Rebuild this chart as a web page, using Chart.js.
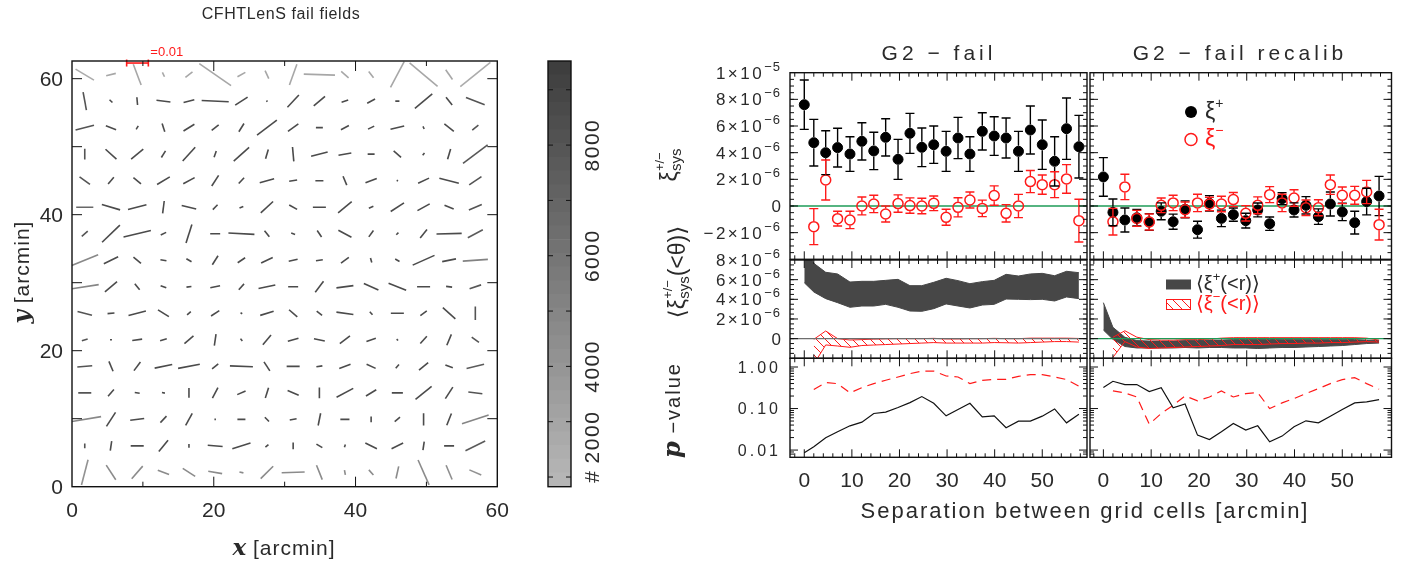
<!DOCTYPE html>
<html>
<head>
<meta charset="utf-8">
<script src="https://cdn.jsdelivr.net/npm/chart.js@4/dist/chart.umd.min.js"></script>
<style>
  html, body { margin: 0; padding: 0; background: #fff; }
  #wrap { position: relative; width: 1413px; height: 567px; overflow: hidden; }
  #wrap canvas { position: absolute; left: 0; top: 0; }
</style>
</head>
<body>
<div id="wrap"></div>
<script>
// ---- whisker map (16 x 16 cells, rows listed top to bottom) ----
const cellX = [1.8, 5.5, 9.2, 12.9, 16.5, 20.2, 23.9, 27.5, 31.2, 34.9, 38.5, 42.2, 45.9, 49.6, 53.2, 56.9];
const cellY = [60.6, 56.7, 52.8, 48.9, 45.0, 41.1, 37.2, 33.3, 29.4, 25.5, 21.6, 17.7, 13.8, 9.9, 6.0, 2.1];
// |e| x 1000
const ellip = [
  [10.0, 4.6, 10.6, 2.3, 4.2, 18.1, 4.2, 4.2, 10.6, 14.4, 4.6, 3.7, 13.9, 17.1, 5.6, 18.1],
  [8.8, 1.9, 3.7, 6.5, 5.1, 12.5, 6.9, 0.7, 7.9, 6.9, 3.2, 4.2, 1.9, 10.6, 4.6, 9.3],
  [8.8, 5.1, 1.9, 4.2, 6.0, 4.2, 4.6, 11.6, 6.0, 3.2, 4.2, 3.2, 6.5, 1.4, 5.6, 3.7],
  [5.1, 6.9, 7.4, 3.7, 8.8, 3.2, 9.7, 4.6, 6.9, 7.9, 6.0, 3.2, 4.6, 1.4, 5.1, 14.4],
  [6.0, 4.2, 4.6, 6.9, 6.0, 6.0, 3.7, 6.9, 3.7, 3.7, 4.6, 5.6, 0.7, 5.6, 9.3, 6.9],
  [7.9, 8.8, 8.8, 6.0, 6.9, 3.2, 1.9, 7.9, 4.2, 6.0, 8.3, 2.3, 7.4, 6.5, 4.6, 6.5],
  [3.7, 11.6, 13.0, 2.8, 9.3, 4.6, 12.0, 3.7, 1.9, 3.7, 6.9, 3.7, 1.4, 5.1, 11.6, 7.9],
  [13.4, 7.4, 4.6, 2.8, 2.8, 5.1, 4.2, 6.0, 4.2, 3.2, 4.6, 2.3, 2.3, 11.1, 6.5, 11.6],
  [13.0, 7.4, 3.7, 2.8, 2.3, 4.6, 3.7, 7.9, 4.6, 6.5, 7.9, 7.4, 8.8, 6.0, 2.8, 5.6],
  [6.9, 3.2, 8.3, 6.0, 2.3, 4.6, 0.9, 6.5, 5.1, 3.2, 7.9, 1.9, 6.0, 3.7, 7.9, 6.5],
  [2.8, 0.9, 4.6, 3.2, 5.6, 5.6, 1.4, 6.0, 5.1, 5.1, 6.0, 4.6, 0.9, 4.6, 5.6, 4.2],
  [6.9, 5.1, 5.1, 8.3, 10.2, 3.7, 10.6, 5.1, 6.0, 2.8, 5.6, 4.6, 2.3, 5.6, 3.7, 8.3],
  [6.0, 4.2, 2.3, 1.4, 4.6, 5.6, 4.2, 5.1, 5.6, 5.1, 8.8, 5.6, 5.1, 9.7, 6.5, 6.5],
  [15.3, 7.9, 6.5, 4.2, 6.5, 0.7, 3.7, 2.8, 3.2, 6.0, 4.2, 2.8, 3.2, 6.0, 6.0, 13.0],
  [2.3, 4.6, 6.0, 6.9, 1.9, 6.9, 8.8, 1.9, 3.2, 3.2, 1.4, 6.0, 6.0, 4.2, 4.6, 10.2],
  [12.5, 8.3, 7.9, 5.6, 6.9, 6.5, 1.9, 8.3, 10.6, 7.4, 2.3, 3.2, 6.0, 13.0, 7.4, 6.0]
];
// position angle, degrees
const angle = [
  [-32, 15, -70, -65, 39, -36, 30, -66, 71, -2, -42, -53, 63, -41, -56, 40],
  [-80, -45, -85, -7, 14, -3, 34, -60, 48, 41, 18, 30, 0, 41, -52, -22],
  [15, -22, 59, -73, 33, 40, 59, 38, 37, 0, 29, 27, 14, -67, -39, 40],
  [90, -43, 41, 59, 49, 72, 43, 74, -85, 15, 10, 0, -42, 53, 74, 38],
  [-37, 51, -41, 32, 29, 58, 48, 16, 9, 0, -68, 22, -30, 26, -15, 35],
  [0, -17, 15, 83, -14, 47, 23, 44, -30, 0, 41, 25, 34, 30, -23, 24],
  [42, 45, 14, 27, 73, 0, -3, -53, -20, -57, -29, 55, 45, 52, 1.5, 29],
  [23, 27, -41, -9, -32, 59, 35, 27, 13, 10, 38, -75, -30, 25, 12, 4],
  [9, 41, -53, -22, 8, 12, 49, 12, 0, 54, 8, -25, -23, 0, -7, 19],
  [-15, 5, 15, -33, 42, 34, -30, 18, -42, -39, -8, -49, 0, 37, -43, 90],
  [18, 0, 8, 17, 42, 82, -54, 51, 16, -12, 39, 20, -45, 49, 68, -37],
  [5, -68, 54, 12, 11, 40, -2.5, -58, 0, 9, 22, -25, 50, 41, -22, 14],
  [0, 50, -8, -11, 90, 63, 24, 73, -24, 90, 29, 32, 0, 40, 58, -7],
  [10, 58, 8, 48, 62, 0, 0, -47, 10, 79, 0, 90, 40, 90, 69, 19],
  [90, 82, 0, 52, 90, -5, 18, 42, 90, -32, 72, -27, 27, 82, 0, 27],
  [76, -58, 50, -22, -34, -10, -14, 46, 2, -69, -80, -49, 78, -67, -68, -24]
];
// galaxies per cell
const counts = [
  [2600, 2900, 2900, 2900, 2900, 2900, 2900, 2900, 2900, 2900, 2900, 2900, 2900, 2900, 2900, 2600],
  [8000, 8600, 8600, 8600, 8600, 8600, 8600, 8600, 8600, 8600, 8600, 8600, 8600, 8600, 8600, 8000],
  [8000, 8600, 8600, 8600, 8600, 8600, 8600, 8600, 8600, 8600, 8600, 8600, 8600, 8600, 8600, 8000],
  [8000, 8600, 8600, 8600, 8600, 8600, 8600, 8600, 8600, 8600, 8600, 8600, 8600, 8600, 8600, 7800],
  [8000, 8600, 8600, 8600, 8600, 8600, 8600, 8600, 8600, 8600, 8600, 8600, 8600, 8600, 8600, 8000],
  [6800, 8600, 8600, 8600, 8600, 8600, 8600, 8600, 8600, 8600, 8600, 8600, 8600, 8600, 8600, 8000],
  [8000, 8600, 8600, 8600, 8600, 8600, 8600, 8600, 8600, 8600, 8600, 8600, 8600, 8600, 8600, 7600],
  [4800, 8600, 8600, 8600, 8600, 8600, 8600, 8600, 8600, 8600, 8600, 8600, 8600, 8600, 8600, 5200],
  [5000, 8600, 8600, 8600, 8600, 8600, 8600, 8600, 8600, 8600, 8600, 8600, 8600, 8600, 8600, 7800],
  [8000, 8600, 8600, 8600, 8600, 8600, 8600, 8600, 8600, 8600, 8600, 8600, 8600, 8600, 8600, 8000],
  [8000, 8600, 8600, 8600, 8600, 8600, 8600, 8600, 8600, 8600, 8600, 8600, 8600, 8600, 8600, 8000],
  [8000, 8600, 8600, 8600, 8600, 8600, 8600, 8600, 8600, 8600, 8600, 8600, 8600, 8600, 8600, 7600],
  [8000, 8600, 8600, 8600, 8600, 8600, 8600, 8600, 8600, 8600, 8600, 8600, 8600, 8600, 8600, 8000],
  [4800, 8600, 8600, 8600, 8600, 8600, 8600, 8600, 8600, 8600, 8600, 8600, 8600, 8600, 8600, 5000],
  [8000, 8600, 8600, 8600, 8600, 8600, 8600, 8600, 8600, 8600, 8600, 8600, 8600, 8600, 8600, 7600],
  [4200, 4600, 4600, 4600, 4600, 4600, 4600, 4600, 4600, 4600, 4600, 4600, 4600, 4600, 4400, 4200]
];
const barE = 10;          // scale bar: e = 0.01
const barLen = 3.06;      // arcmin spanned by e = 0.01
const barX = 9.24, barY = 62.3;
const whiskTicks = [0, 20, 40, 60];
const cbMin = 1825, cbMax = 9520;
const cbTicks = [2000, 4000, 6000, 8000];

// ---- correlation panels (xi values in units of 1e-6) ----
const sepX = [0, 2.0, 4.5, 7.0, 9.6, 12.1, 14.6, 17.1, 19.7, 22.2, 24.7, 27.2, 29.8, 32.3, 34.8, 37.4, 39.9, 42.4, 45.0, 47.5, 50.0, 52.6, 55.1, 57.7];
const sepTicks = [0, 10, 20, 30, 40, 50];

const failXiP = [7.6, 4.75, 4.0, 4.38, 3.9, 4.85, 4.13, 5.15, 3.5, 5.45, 4.4, 4.6, 4.1, 5.1, 3.9, 5.6, 5.25, 5.1, 4.1, 5.7, 4.6, 3.35, 5.8, 4.45];
const failXiPErr = [1.85, 1.75, 1.65, 1.45, 1.3, 1.4, 1.4, 1.4, 1.5, 1.5, 1.45, 1.4, 1.5, 1.55, 1.3, 1.4, 1.45, 1.5, 1.5, 1.8, 1.85, 1.85, 2.3, 2.35];
const failXiM = [-1.55, 1.95, -0.95, -1.05, 0, 0.15, -0.6, 0.18, 0.03, 0, 0.2, -0.85, -0.1, 0.45, -0.18, 0.78, -0.55, 0, 1.83, 1.6, 1.6, 2.03, -1.1];
const failXiMErr = [1.35, 1.5, 0.55, 0.65, 0.67, 0.65, 0.6, 0.65, 0.58, 0.58, 0.55, 0.6, 0.72, 0.6, 0.62, 0.73, 0.65, 0.87, 0.83, 0.72, 0.97, 1.07, 1.6];
const recXiP = [2.18, -0.48, -1.05, -0.88, -1.2, -0.4, -1.18, -0.25, -1.78, 0.2, -0.93, -0.65, -1.1, -0.3, -1.33, 0.55, -0.3, 0.05, -0.8, 0.15, -0.45, -1.25, 0.33, 0.75];
const recXiPErr = [1.45, 1.0, 0.9, 0.62, 0.63, 0.63, 0.57, 0.63, 0.63, 0.58, 0.62, 0.5, 0.55, 0.52, 0.5, 0.45, 0.53, 0.65, 0.58, 0.9, 0.65, 0.85, 1.0, 1.47];
const recXiM = [-1.18, 1.43, -0.93, -1.2, 0.05, 0.23, -0.28, 0.23, 0.15, 0.15, 0.48, -0.55, 0.05, 0.85, 0.23, 0.6, -0.13, -0.13, 1.6, 0.8, 0.8, 1.05, -1.4];
const recXiMErr = [1.0, 0.95, 0.6, 0.6, 0.55, 0.58, 0.58, 0.65, 0.5, 0.58, 0.53, 0.58, 0.63, 0.6, 0.65, 0.62, 0.58, 0.6, 0.73, 0.62, 0.67, 0.87, 1.15];

const failMeanPHi = [9.5, 7.66, 6.75, 6.58, 5.76, 5.83, 5.83, 5.93, 6.03, 5.39, 5.39, 5.73, 6.14, 5.9, 5.59, 5.8, 5.93, 6.54, 6.37, 6.58, 6.64, 6.4, 6.85, 6.71];
const failMeanPLo = [5.69, 4.75, 4.07, 3.66, 3.19, 3.32, 3.32, 3.49, 3.19, 2.81, 2.78, 3.05, 3.53, 3.32, 3.12, 3.42, 3.49, 4.03, 4.0, 3.97, 4.0, 3.83, 4.24, 4.07];
const failMeanMHi = [-0.07, 0.78, 0.0, -0.14, -0.1, -0.05, -0.02, 0, 0, 0, 0.03, -0.03, -0.03, 0, 0, 0.03, 0, 0, 0.05, 0.05, 0.05, 0.05, 0.02];
const failMeanMLo = [-2.6, -0.64, -0.75, -0.88, -0.7, -0.65, -0.6, -0.55, -0.5, -0.45, -0.4, -0.45, -0.45, -0.45, -0.45, -0.4, -0.42, -0.45, -0.4, -0.35, -0.3, -0.3, -0.35];
const recMeanPHi = [3.66, 1.15, 0.14, -0.2, -0.25, -0.25, -0.25, -0.2, -0.2, -0.15, -0.15, -0.1, -0.1, -0.1, -0.1, -0.05, -0.05, -0.05, -0.05, -0.05, -0.05, -0.1, -0.15, -0.2];
const recMeanPLo = [0.88, -0.07, -0.8, -0.95, -0.95, -0.95, -0.95, -0.9, -0.95, -0.9, -0.9, -0.95, -0.95, -1.0, -0.95, -0.9, -0.9, -0.85, -0.8, -0.75, -0.7, -0.6, -0.5, -0.45];
const recMeanMHi = [0.14, 0.8, 0.15, -0.1, -0.15, -0.15, -0.1, -0.1, -0.05, 0.05, 0.1, 0.1, 0.1, 0.1, 0.1, 0.1, 0.1, 0.1, 0.1, 0.1, 0.1, 0.05, -0.15];
const recMeanMLo = [-1.9, -0.3, -0.85, -1.0, -0.95, -0.9, -0.85, -0.8, -0.75, -0.7, -0.6, -0.6, -0.6, -0.55, -0.5, -0.5, -0.45, -0.45, -0.4, -0.4, -0.35, -0.3, -0.35];

const failPP = [0.0086, 0.012, 0.0198, 0.0275, 0.0384, 0.047, 0.0759, 0.0817, 0.106, 0.139, 0.194, 0.134, 0.0667, 0.0946, 0.134, 0.063, 0.0667, 0.0344, 0.0497, 0.0497, 0.0655, 0.098, 0.0453, 0.0731];
const failPM = [0.286, 0.421, 0.398, 0.238, 0.319, 0.398, 0.479, 0.575, 0.692, 0.80, 0.80, 0.608, 0.575, 0.398, 0.479, 0.506, 0.506, 0.597, 0.655, 0.655, 0.575, 0.50, 0.344];
const recPP = [0.319, 0.453, 0.377, 0.377, 0.256, 0.319, 0.104, 0.129, 0.0229, 0.018, 0.0275, 0.0437, 0.0302, 0.0384, 0.0158, 0.0217, 0.0363, 0.0506, 0.0453, 0.0655, 0.0946, 0.137, 0.145, 0.164];
const recPM = [0.265, 0.238, 0.19, 0.042, 0.076, 0.12, 0.201, 0.153, 0.19, 0.265, 0.19, 0.229, 0.242, 0.1, 0.137, 0.174, 0.229, 0.302, 0.398, 0.497, 0.555, 0.398, 0.291];

const xiTicks = [10, 8, 6, 4, 2, 0, -2];
const meanTicks = [8, 6, 4, 2, 0];
const pTicks = [1, 0.1, 0.01];
const pTickLabels = ['1.00', '0.10', '0.01'];

// ---------------------------------------------------------------
const W = 1413, H = 567;
const RED = '#ff1a1a', GREEN = '#1e9b57', INK = '#2a2a2a';
const SANS = '"Liberation Sans", "DejaVu Sans", Arial, sans-serif';
const SERIF = '"DejaVu Serif", "Liberation Serif", serif';
const UP = -Math.PI / 2;
const wrap = document.getElementById('wrap');

const range = (a, b, s) => { const out = []; for (let v = a; v <= b + 1e-9; v += s) out.push(+v.toFixed(4)); return out; };
const grayOf = c => {
  const v = Math.round(0xb8 - (c - cbMin) / (cbMax - cbMin) * (0xb8 - 0x3c));
  return `rgb(${v},${v},${v})`;
};
const pts = (xs, ys) => ys.map((y, i) => ({ x: xs[i], y }));

// text made of parts: {t, s, dy, ls, b, it, serif, c, hold}
function fontOf(p) { return `${p.it ? 'italic ' : ''}${p.b ? 'bold ' : ''}${p.s || 20}px ${p.serif ? SERIF : SANS}`; }
function rich(ctx, parts, x, y, align = 'left', rot = 0, color = INK) {
  ctx.save();
  ctx.translate(x, y);
  if (rot) ctx.rotate(rot);
  ctx.textAlign = 'left';
  ctx.textBaseline = 'alphabetic';
  const pos = [];
  let cur = 0, held = 0;
  parts.forEach(p => {
    ctx.font = fontOf(p);
    ctx.letterSpacing = (p.ls || 0) + 'px';
    const w = ctx.measureText(p.t).width;
    pos.push(cur);
    if (p.hold) held = w; else { cur += Math.max(w, held); held = 0; }
  });
  const off = align === 'center' ? -cur / 2 : align === 'right' ? -cur : 0;
  parts.forEach((p, i) => {
    ctx.font = fontOf(p);
    ctx.letterSpacing = (p.ls || 0) + 'px';
    ctx.fillStyle = p.c || color;
    ctx.fillText(p.t, off + pos[i], p.dy || 0);
  });
  ctx.restore();
}

// box, inner tick marks and tick labels, IDL style
function frame(o) {
  return {
    id: 'frame',
    afterDraw(chart) {
      const { ctx, chartArea: a } = chart;
      const xs = chart.scales.x, ys = chart.scales.y;
      ctx.save();
      ctx.strokeStyle = '#111';
      ctx.lineWidth = 1;
      ctx.beginPath();
      const tx = (vals, len) => (vals || []).forEach(v => {
        const p = xs.getPixelForValue(v);
        if (p < a.left + 1 || p > a.right - 1) return;
        ctx.moveTo(p, a.bottom); ctx.lineTo(p, a.bottom - len);
        ctx.moveTo(p, a.top); ctx.lineTo(p, a.top + len);
      });
      const ty = (vals, len) => (vals || []).forEach(v => {
        const p = ys.getPixelForValue(v);
        if (p < a.top + 1 || p > a.bottom - 1) return;
        ctx.moveTo(a.left, p); ctx.lineTo(a.left + len, p);
        ctx.moveTo(a.right, p); ctx.lineTo(a.right - len, p);
      });
      tx(o.xMaj, o.maj); tx(o.xMin, o.min);
      ty(o.yMaj, o.maj); ty(o.yMin, o.min);
      ctx.stroke();
      ctx.lineWidth = 1.4;
      ctx.strokeRect(a.left, a.top, a.right - a.left, a.bottom - a.top);
      ctx.restore();
      (o.xLab || []).forEach(([v, parts]) => rich(ctx, parts, xs.getPixelForValue(v), a.bottom + 30, 'center'));
      (o.yLab || []).forEach(([v, parts, s]) => rich(ctx, parts, a.left - 9, ys.getPixelForValue(v) + 0.36 * s, 'right'));
      if (o.deco) o.deco(ctx, a, xs, ys);
    }
  };
}

// vertical error bars with caps, drawn from dataset.err through the y scale
const errorBars = {
  id: 'errorBars',
  afterDatasetsDraw(chart) {
    const { ctx, chartArea: a } = chart;
    const ys = chart.scales.y;
    ctx.save();
    ctx.beginPath(); ctx.rect(a.left, a.top, a.right - a.left, a.bottom - a.top); ctx.clip();
    chart.data.datasets.forEach((ds, i) => {
      if (!ds.err) return;
      const meta = chart.getDatasetMeta(i);
      ctx.strokeStyle = ds.pointBorderColor;
      ctx.lineWidth = 1.4;
      ctx.beginPath();
      meta.data.forEach((el, j) => {
        const v = ds.data[j].y, e = ds.err[j];
        const yt = ys.getPixelForValue(v + e), yb = ys.getPixelForValue(v - e);
        const r = ds.pointRadius + 0.6;
        if (el.y - r > yt) { ctx.moveTo(el.x, yt); ctx.lineTo(el.x, el.y - r); }
        if (el.y + r < yb) { ctx.moveTo(el.x, el.y + r); ctx.lineTo(el.x, yb); }
        ctx.moveTo(el.x - 4.5, yt); ctx.lineTo(el.x + 4.5, yt);
        ctx.moveTo(el.x - 4.5, yb); ctx.lineTo(el.x + 4.5, yb);
      });
      ctx.stroke();
    });
    ctx.restore();
  }
};

function hatch() {
  const c = document.createElement('canvas');
  c.width = c.height = 9;
  const g = c.getContext('2d');
  g.strokeStyle = RED; g.lineWidth = 1;
  g.beginPath();
  [-9, 0, 9].forEach(k => { g.moveTo(k, 0); g.lineTo(k + 9, 9); });
  g.stroke();
  return g.createPattern(c, 'repeat');
}
const HATCH = hatch();

function panel(area, type, data, xs, ys, plugins) {
  const cv = document.createElement('canvas');
  cv.width = W; cv.height = H;
  wrap.appendChild(cv);
  const [x0, y0, x1, y1] = area;
  const off = { display: false, drawTicks: false };
  xs = Object.assign({ grid: off, border: { display: false }, ticks: { display: false }, afterFit: s => { s.height = H - y1; } }, xs);
  ys = Object.assign({ grid: off, border: { display: false }, ticks: { display: false }, afterFit: s => { s.width = x0; } }, ys);
  return new Chart(cv, {
    type, data,
    options: {
      responsive: false, animation: false, devicePixelRatio: 1, events: [],
      layout: { padding: { left: 0, top: y0, right: W - x1, bottom: 0 } },
      plugins: { legend: { display: false }, tooltip: { enabled: false } },
      scales: { x: xs, y: ys }
    },
    plugins
  });
}

const T = (t, o) => Object.assign({ t, s: 21 }, o);
const numLab = v => [T(String(v))];

// ================= whisker map =================
const whiskerSets = [];
ellip.forEach((row, r) => row.forEach((e, c) => {
  const half = e / barE * barLen / 2, th = angle[r][c] * Math.PI / 180;
  const dx = half * Math.cos(th), dy = half * Math.sin(th);
  whiskerSets.push({
    data: [{ x: cellX[c] - dx, y: cellY[r] - dy }, { x: cellX[c] + dx, y: cellY[r] + dy }],
    showLine: true, borderColor: grayOf(counts[r][c]), borderWidth: 1.6, pointRadius: 0
  });
}));
whiskerSets.push({
  data: [{ x: barX - barLen / 2, y: barY }, { x: barX + barLen / 2, y: barY }],
  showLine: true, borderColor: RED, borderWidth: 1.6, clip: false,
  pointStyle: 'line', pointRotation: 90, pointRadius: 3.5, pointBorderColor: RED, pointBorderWidth: 1.6
});

panel([72, 61, 497.3, 486.7], 'scatter', { datasets: whiskerSets },
  { type: 'linear', min: 0, max: 60 },
  { type: 'linear', min: 0, max: 62.6 },
  [frame({
    xMaj: whiskTicks, xMin: [10, 30, 50], yMaj: range(0, 60, 10), maj: 10, min: 5,
    xLab: whiskTicks.map(v => [v, numLab(v)]),
    yLab: whiskTicks.map(v => [v, numLab(v), 21]),
    deco(ctx, a, xs, ys) {
      rich(ctx, [T('CFHTLenS fail fields', { s: 16, ls: 0.6 })], 281, 19, 'center');
      rich(ctx, [T('x', { s: 23, b: true, it: true, serif: true }), T(' [arcmin]', { s: 21, ls: 1 })], 284, 555, 'center');
      rich(ctx, [T('y', { s: 23, b: true, it: true, serif: true }), T(' [arcmin]', { s: 21, ls: 1 })], 29, 272, 'center', UP);
      rich(ctx, [T('=0.01', { s: 13, c: RED })], xs.getPixelForValue(barX + barLen / 2) + 2, 56);
    }
  })]);

// ================= colour bar =================
const nBands = 31;
const bandSets = [];
for (let i = 0; i < nBands; i++) {
  const lo = cbMin + i * (cbMax - cbMin) / nBands, hi = cbMin + (i + 1) * (cbMax - cbMin) / nBands;
  bandSets.push({ data: [[lo, hi + 1]], backgroundColor: grayOf((lo + hi) / 2), borderWidth: 0, barPercentage: 1, categoryPercentage: 1 });
}
panel([548, 61, 571, 486.7], 'bar', { labels: ['#'], datasets: bandSets },
  { type: 'category', stacked: true },
  { type: 'linear', min: cbMin, max: cbMax, stacked: false },
  [frame({
    yMaj: range(2000, 9000, 1000), maj: 5,
    deco(ctx, a, xs, ys) {
      const lx = 599;
      cbTicks.forEach((v, i) => {
        const p = ys.getPixelForValue(v) - (i === 0 ? 40 : 0);
        rich(ctx, [T(String(v), { ls: 1.5 })], lx, p, 'center', UP);
      });
      rich(ctx, [T('#', { s: 21 })], lx, ys.getPixelForValue(2000), 'center', UP);
    }
  })]);

// ================= correlation panels =================
const xiLab = v => {
  if (v === 0) return [T('0', { s: 17 })];
  const base = v === 10 ? '1' : (v < 0 ? '−' : '') + Math.abs(v);
  return [T(base + '×10', { s: 17, ls: 2.5 }), T(v === 10 ? '−5' : '−6', { s: 13, ls: 1, dy: -8 })];
};
const sepMin = (lo, hi) => range(lo, hi, 2).filter(v => v % 10 !== 0);
const logMinor = [0.007, 0.008, 0.009].concat(range(0.02, 0.09, 0.01), range(0.2, 0.9, 0.1));
const colL = { min: -3, max: 59.4, x0: 790, x1: 1087 };
const colR = { min: -2.8, max: 60.3, x0: 1090, x1: 1391.5 };
const rowTop = [72.7, 259.3], rowMid = [260, 358.3], rowBot = [358.3, 457.3];

const zeroLine = (col, color, order) => ({
  data: [{ x: col.min, y: 0 }, { x: col.max, y: 0 }], showLine: true,
  borderColor: color, borderWidth: 1.4, pointRadius: 0, order
});
const xiSets = (col, p, pe, m, me) => [
  zeroLine(col, GREEN, 5),
  { data: pts(sepX, p), err: pe, pointRadius: 5, pointBackgroundColor: '#000', pointBorderColor: '#000', pointBorderWidth: 1, order: 1 },
  { data: pts(sepX.slice(1), m), err: me, pointRadius: 5, pointBackgroundColor: 'rgba(0,0,0,0)', pointBorderColor: RED, pointBorderWidth: 1.5, order: 0 }
];
const bandSet = (col, pHi, pLo, mHi, mLo, zeroColor) => [
  { data: pts(sepX, pHi), showLine: true, fill: '+1', backgroundColor: '#474747', borderColor: '#474747', borderWidth: 1, pointRadius: 0, order: 3 },
  { data: pts(sepX, pLo), showLine: true, fill: false, borderColor: '#474747', borderWidth: 1, pointRadius: 0, order: 3 },
  { data: pts(sepX.slice(1), mHi), showLine: true, fill: '+1', backgroundColor: HATCH, borderColor: RED, borderWidth: 1, pointRadius: 0, order: 2 },
  { data: pts(sepX.slice(1), mLo), showLine: true, fill: false, borderColor: RED, borderWidth: 1, pointRadius: 0, order: 2 },
  zeroLine(col, zeroColor, 0)
];
const pSets = (pp, pm) => [
  { data: pts(sepX, pp), showLine: true, borderColor: '#111', borderWidth: 1.2, pointRadius: 0 },
  { data: pts(sepX.slice(1), pm), showLine: true, borderColor: RED, borderWidth: 1.2, borderDash: [9, 6], pointRadius: 0 }
];
const xScale = col => ({ type: 'linear', min: col.min, max: col.max });
const xTickOpts = lab => ({
  xMaj: sepTicks, xMin: sepMin(-2, 60), maj: 8, min: 4,
  xLab: lab ? sepTicks.map(v => [v, numLab(v)]) : []
});

// top row
panel([colL.x0, rowTop[0], colL.x1, rowTop[1]], 'scatter', { datasets: xiSets(colL, failXiP, failXiPErr, failXiM, failXiMErr) },
  xScale(colL), { type: 'linear', min: -4, max: 10 },
  [errorBars, frame(Object.assign(xTickOpts(false), {
    yMaj: range(-4, 10, 2), yMin: range(-3.5, 9.5, 0.5),
    yLab: xiTicks.map(v => [v, xiLab(v), 17]),
    deco(ctx) {
      rich(ctx, [T('G2 − fail', { s: 21, ls: 4 })], 939, 60, 'center');
      rich(ctx, [T('ξ', { s: 23 }), T('+/−', { s: 13, dy: -13, hold: true }), T('sys', { s: 15, dy: 4 })], 677, 165, 'center', UP);
    }
  }))]);
panel([colR.x0, rowTop[0], colR.x1, rowTop[1]], 'scatter', { datasets: xiSets(colR, recXiP, recXiPErr, recXiM, recXiMErr) },
  xScale(colR), { type: 'linear', min: -4, max: 10 },
  [errorBars, frame(Object.assign(xTickOpts(false), {
    yMaj: range(-4, 10, 2), yMin: range(-3.5, 9.5, 0.5),
    deco(ctx) {
      rich(ctx, [T('G2 − fail recalib', { s: 21, ls: 4 })], 1240, 60, 'center');
      ctx.save();
      ctx.fillStyle = '#000';
      ctx.beginPath(); ctx.arc(1191, 112, 6, 0, 2 * Math.PI); ctx.fill();
      ctx.strokeStyle = RED; ctx.lineWidth = 1.5;
      ctx.beginPath(); ctx.arc(1191, 139.5, 6, 0, 2 * Math.PI); ctx.stroke();
      ctx.restore();
      rich(ctx, [T('ξ', { s: 23 }), T('+', { s: 14, dy: -11 })], 1205, 119);
      rich(ctx, [T('ξ', { s: 23, c: RED }), T('−', { s: 14, dy: -11, c: RED })], 1205, 146);
    }
  }))]);

// middle row
panel([colL.x0, rowMid[0], colL.x1, rowMid[1]], 'scatter', { datasets: bandSet(colL, failMeanPHi, failMeanPLo, failMeanMHi, failMeanMLo, '#6e6e6e') },
  xScale(colL), { type: 'linear', min: -2, max: 8 },
  [frame(Object.assign(xTickOpts(false), {
    yMaj: range(-2, 8, 2), yMin: range(-1.5, 7.5, 0.5),
    yLab: meanTicks.map(v => [v, xiLab(v), 17]),
    deco(ctx) {
      rich(ctx, [T('⟨ξ', { s: 23 }), T('+/−', { s: 13, dy: -13, hold: true }), T('sys', { s: 15, dy: 4 }), T('(<θ)⟩', { s: 23 })], 685, 272, 'center', UP);
    }
  }))]);
panel([colR.x0, rowMid[0], colR.x1, rowMid[1]], 'scatter', { datasets: bandSet(colR, recMeanPHi, recMeanPLo, recMeanMHi, recMeanMLo, GREEN) },
  xScale(colR), { type: 'linear', min: -2, max: 8 },
  [frame(Object.assign(xTickOpts(false), {
    yMaj: range(-2, 8, 2), yMin: range(-1.5, 7.5, 0.5),
    deco(ctx) {
      ctx.save();
      ctx.fillStyle = '#474747'; ctx.fillRect(1166, 279.5, 25, 10);
      ctx.fillStyle = HATCH; ctx.fillRect(1166, 299.5, 25, 10);
      ctx.strokeStyle = RED; ctx.lineWidth = 1; ctx.strokeRect(1166.5, 299.5, 24, 10);
      ctx.restore();
      rich(ctx, [T('⟨ξ', { s: 20 }), T('+', { s: 13, dy: -9 }), T('(<r)⟩', { s: 20 })], 1196, 290);
      rich(ctx, [T('⟨ξ', { s: 20, c: RED }), T('−', { s: 13, dy: -9, c: RED }), T('(<r)⟩', { s: 20, c: RED })], 1196, 310);
    }
  }))]);

// bottom row
panel([colL.x0, rowBot[0], colL.x1, rowBot[1]], 'scatter', { datasets: pSets(failPP, failPM) },
  xScale(colL), { type: 'logarithmic', min: 0.0067, max: 1.62 },
  [frame(Object.assign(xTickOpts(true), {
    yMaj: pTicks, yMin: logMinor,
    yLab: pTicks.map((v, i) => [v, [T(pTickLabels[i], { s: 16, ls: 3 })], 16]),
    deco(ctx) {
      rich(ctx, [T('p', { s: 24, b: true, it: true, serif: true }), T(' −value', { s: 20, ls: 2 })], 680, 410, 'center', UP);
      rich(ctx, [T('Separation between grid cells [arcmin]', { s: 22, ls: 2 })], 1085, 518, 'center');
    }
  }))]);
panel([colR.x0, rowBot[0], colR.x1, rowBot[1]], 'scatter', { datasets: pSets(recPP, recPM) },
  xScale(colR), { type: 'logarithmic', min: 0.0067, max: 1.62 },
  [frame(Object.assign(xTickOpts(true), { yMaj: pTicks, yMin: logMinor }))]);
</script>
</body>
</html>
